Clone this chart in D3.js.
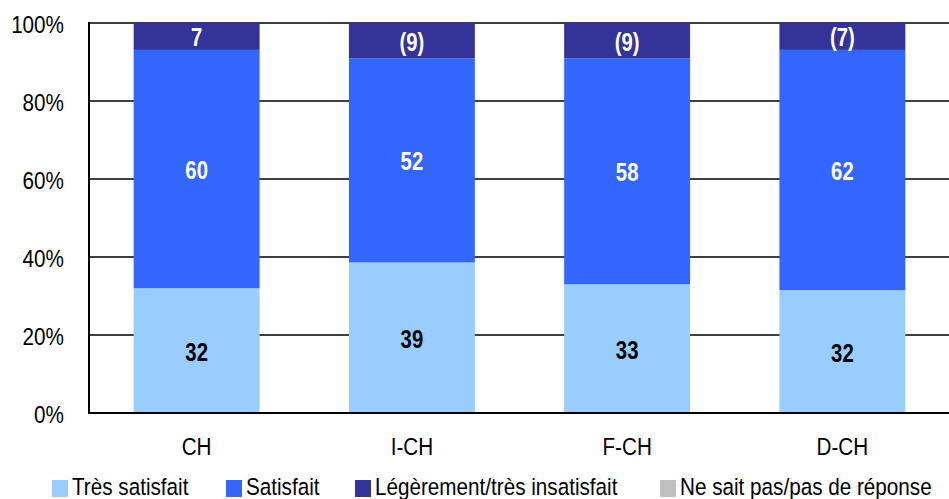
<!DOCTYPE html>
<html>
<head>
<meta charset="utf-8">
<script src="https://cdn.jsdelivr.net/npm/d3@7"></script>
<style>
  html, body { margin: 0; padding: 0; background: #fff; }
  svg { display: block; }
  text { font-family: "Liberation Sans", Arial, sans-serif; }
</style>
</head>
<body>
<svg id="chart" width="949" height="499"></svg>
<script>
// ---- data ----
const categories = ["CH", "I-CH", "F-CH", "D-CH"];
const seriesNames = ["Très satisfait", "Satisfait", "Légèrement/très insatisfait", "Ne sait pas/pas de réponse"];
const tresSatisfait = [32.0, 38.6, 33.0, 31.5];
const satisfait = [61.1, 52.3, 57.9, 61.6];
const insatisfait = [6.9, 9.1, 9.1, 6.9];
const neSaitPas = [0, 0, 0, 0];
const labelsTres = ["32", "39", "33", "32"];
const labelsSat = ["60", "52", "58", "62"];
const labelsIns = ["7", "(9)", "(9)", "(7)"];
const yTicks = [0, 20, 40, 60, 80, 100];
const yTickLabels = ["0%", "20%", "40%", "60%", "80%", "100%"];

// ---- styles ----
const colors = ["#99CCFF", "#3366FF", "#333399", "#C0C0C0"];
const labelColors = ["#000000", "#ffffff", "#ffffff"];
const margin = { left: 89, right: 0, top: 23, bottom: 86 };
const W = 949, H = 499;
const sxRegular = 0.88, sxBold = 0.78;
const legendX = [52, 226, 355, 660];

const svg = d3.select("#chart");

const x = d3.scaleBand()
  .domain(categories)
  .range([margin.left, W - margin.right + 1])
  .paddingInner(0.415)
  .paddingOuter(0.2075);

const y = d3.scaleLinear().domain([0, 100]).range([H - margin.bottom, margin.top]);

function addText(parent, px, py, str, opts) {
  const t = parent.append("text")
    .attr("transform", `translate(${px},${py}) scale(${opts.sx},1)`)
    .attr("text-anchor", opts.anchor || "middle")
    .attr("font-size", opts.size)
    .attr("font-weight", opts.weight || "normal")
    .attr("fill", opts.fill || "#000")
    .text(str);
  return t;
}

// gridlines
svg.append("g")
  .selectAll("line")
  .data(yTicks.filter(d => d > 0))
  .join("line")
  .attr("x1", margin.left)
  .attr("x2", W)
  .attr("y1", d => y(d))
  .attr("y2", d => y(d))
  .attr("stroke", "#000")
  .attr("stroke-width", 1.4);

// stacked bars
const seriesArrays = [tresSatisfait, satisfait, insatisfait, neSaitPas];
const rows = categories.map((c, i) => {
  const r = { cat: c };
  seriesNames.forEach((s, k) => r[s] = seriesArrays[k][i]);
  return r;
});
const stack = d3.stack().keys(seriesNames)(rows);

const barG = svg.append("g");
stack.forEach((layer, k) => {
  barG.append("g")
    .attr("fill", colors[k])
    .selectAll("rect")
    .data(layer.filter(d => d[1] - d[0] > 0))
    .join("rect")
    .attr("x", d => x(d.data.cat))
    .attr("width", x.bandwidth())
    .attr("y", d => y(d[1]))
    .attr("height", d => y(d[0]) - y(d[1]));
});

// segment labels
const labelSets = [labelsTres, labelsSat, labelsIns];
const labG = svg.append("g");
labelSets.forEach((labels, k) => {
  stack[k].forEach((d, i) => {
    const mid = (y(d[0]) + y(d[1])) / 2;
    addText(labG, x(d.data.cat) + x.bandwidth() / 2, mid + 10, labels[i],
      { sx: sxBold, size: 26, weight: "bold", fill: labelColors[k] });
  });
});

// axes lines
svg.append("line")
  .attr("x1", margin.left).attr("x2", margin.left)
  .attr("y1", y(100) - 1).attr("y2", y(0) + 1)
  .attr("stroke", "#000").attr("stroke-width", 2);
svg.append("line")
  .attr("x1", margin.left - 1).attr("x2", W)
  .attr("y1", y(0)).attr("y2", y(0))
  .attr("stroke", "#000").attr("stroke-width", 2.2);

// y tick labels
const yLabG = svg.append("g");
yTicks.forEach((t, i) => {
  addText(yLabG, 64, y(t) + 10, yTickLabels[i], { sx: sxRegular, size: 23.5, anchor: "end" });
});

// x labels
const xLabG = svg.append("g");
categories.forEach(c => {
  addText(xLabG, x(c) + x.bandwidth() / 2, 455, c, { sx: sxRegular, size: 23.5 });
});

// legend
const legG = svg.append("g");
seriesNames.forEach((s, k) => {
  const lx = legendX[k];
  legG.append("rect")
    .attr("x", lx).attr("y", 480)
    .attr("width", 16).attr("height", 17)
    .attr("fill", colors[k]);
  addText(legG, lx + 20, 495, s, { sx: sxRegular, size: 23.5, anchor: "start" });
});
</script>
</body>
</html>
